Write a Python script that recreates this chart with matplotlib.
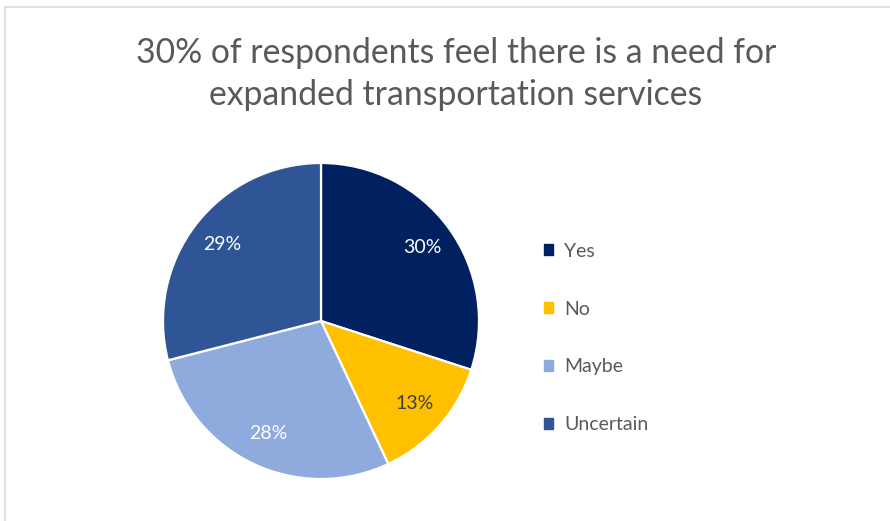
import numpy as np
import matplotlib.pyplot as plt
from matplotlib.lines import Line2D

plt.rcParams['font.family'] = ['Lato', 'DejaVu Sans']

# survey answers
labels = ['Yes', 'No', 'Maybe', 'Uncertain']
shares = [30, 13, 28, 29]
colors = ['#002060', '#FFC000', '#8FAADC', '#2F5597']
pct_colors = ['white', '#404040', 'white', 'white']

title = '30% of respondents feel there is a need for\nexpanded transportation services'

W, H = 890, 521
fig = plt.figure(figsize=(W / 100, H / 100), dpi=100)

# chart frame (top and left edges)
fig.add_artist(Line2D([5 / W, 1], [1 - 7 / H, 1 - 7 / H], color='#D9D9D9', lw=1.2))
fig.add_artist(Line2D([5 / W, 5 / W], [0, 1 - 7 / H], color='#D9D9D9', lw=1.2))

fig.text(456 / W, 1 - 74 / H, title, ha='center', va='center', fontsize=24.3,
         color='#595959', linespacing=1.4)

cx, cy, r = 321, 321, 158
ax = fig.add_axes([(cx - r) / W, 1 - (cy + r) / H, 2 * r / W, 2 * r / H])
wedges, texts, autotexts = ax.pie(
    shares, colors=colors, startangle=90, counterclock=False,
    autopct='%d%%', pctdistance=0.79,
    wedgeprops=dict(edgecolor='white', linewidth=1.6),
    textprops=dict(fontsize=14))
for t, c in zip(autotexts, pct_colors):
    t.set_color(c)
ax.set_aspect('equal')
ax.set_xlim(-1, 1)
ax.set_ylim(-1, 1)

handles = [plt.Rectangle((0, 0), 1, 1, color=c) for c in colors]
leg = fig.legend(handles, labels, loc='center left',
                 bbox_to_anchor=(526 / W, 1 - 338 / H), frameon=False,
                 fontsize=14, labelcolor='#595959', handlelength=0.5,
                 handleheight=0.5, handletextpad=0.55, labelspacing=2.1)

fig.savefig('out.png', dpi=100)
